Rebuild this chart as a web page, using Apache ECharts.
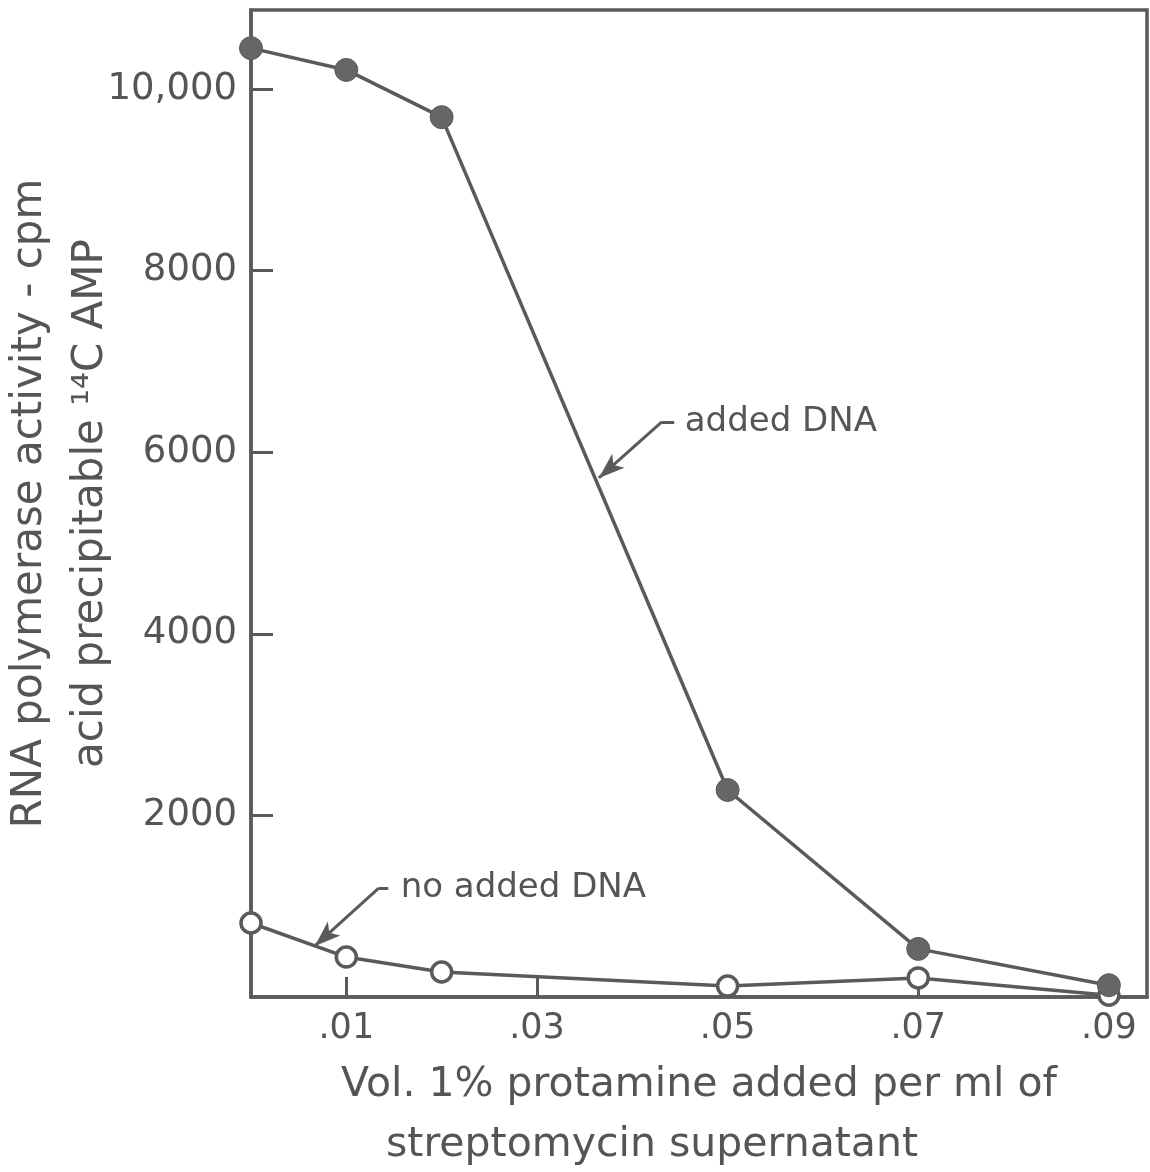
<!DOCTYPE html>
<html>
<head>
<meta charset="utf-8">
<script src="https://cdn.jsdelivr.net/npm/echarts@6/dist/echarts.min.js"></script>
<style>
  html, body { margin: 0; padding: 0; background: #fff; }
  #main { width: 1150px; height: 1172px; }
</style>
</head>
<body>
<div id="main"></div>
<script>
// values
var xAdded = [0, 0.01, 0.02, 0.05, 0.07, 0.09];
var yAdded = [10450, 10210, 9690, 2280, 530, 130];
var xNoAdded = [0, 0.01, 0.02, 0.05, 0.07, 0.09];
var yNoAdded = [815, 440, 275, 120, 210, 20];

var xTicks = [0.01, 0.03, 0.05, 0.07, 0.09];
var yTicks = [2000, 4000, 6000, 8000, 10000];

// leader lines for the two notes: [text end, elbow, arrow tip]
var addedArrow = [[0.0444, 6333], [0.0431, 6333], [0.0365, 5716]];
var noAddedArrow = [[0.0144, 1200], [0.0134, 1200], [0.0067, 562]];
var addedNote = [0.0455, 6333];
var noAddedNote = [0.0157, 1200];

var ink = '#5a5a5a';
var textInk = '#555';
var font = 'DejaVu Sans';

function pairs(xs, ys) {
    var out = [];
    for (var i = 0; i < xs.length; i++) {
        out.push([xs[i], ys[i]]);
    }
    return out;
}

function arrowLines(pts) {
    return [
        [{coord: pts[0], symbol: 'none'}, {coord: pts[1], symbol: 'none'}],
        [{coord: pts[1], symbol: 'none'}, {coord: pts[2], symbol: 'arrow', symbolSize: [14, 26]}]
    ];
}

function note(pos, txt) {
    return {
        symbolSize: 0.1,
        data: [{coord: pos, value: 0}],
        itemStyle: {color: 'rgba(0,0,0,0)'},
        label: {
            show: true, position: 'right', distance: 0,
            formatter: txt, color: textInk, fontFamily: font, fontSize: 34
        }
    };
}

var dom = document.getElementById('main');
var myChart = echarts.init(dom);

var option = {
    animation: false,
    backgroundColor: '#fff',
    grid: {
        left: 251, right: 3, top: 10, bottom: 175,
        containLabel: false,
        outerBoundsMode: 'none',
        show: true, borderColor: ink, borderWidth: 3.5
    },
    xAxis: {
        type: 'value',
        min: 0,
        max: 0.094,
        name: '{a|Vol. 1% protamine added per ml of}\n{b|streptomycin supernatant}',
        nameLocation: 'middle',
        nameGap: 58,
        nameTextStyle: {
            color: textInk, fontFamily: font,
            rich: {
                a: {fontSize: 41, fontFamily: font, color: textInk, lineHeight: 60},
                b: {fontSize: 41, fontFamily: font, color: textInk, lineHeight: 60, padding: [0, 94, 0, 0]}
            }
        },
        axisLine: {show: true, onZero: false, lineStyle: {color: ink, width: 3.5}},
        axisTick: {show: true, inside: true, length: 20, customValues: xTicks, lineStyle: {color: ink, width: 3}},
        axisLabel: {
            customValues: xTicks,
            margin: 14,
            color: textInk, fontFamily: font, fontSize: 35,
            formatter: function(v) { return v.toFixed(2).replace(/^0/, ''); }
        },
        splitLine: {show: false}
    },
    yAxis: {
        type: 'value',
        min: 0,
        max: 10870,
        name: 'RNA polymerase activity - cpm\nacid precipitable \u00b9\u2074C AMP',
        nameLocation: 'middle',
        nameRotate: 90,
        nameGap: 129,
        nameMoveOverlap: false,
        nameTextStyle: {color: textInk, fontFamily: font, fontSize: 42, lineHeight: 61},
        axisLine: {show: true, onZero: false, lineStyle: {color: ink, width: 3.5}},
        axisTick: {show: true, inside: true, length: 22, customValues: yTicks, lineStyle: {color: ink, width: 3}},
        axisLabel: {
            customValues: yTicks,
            margin: 14,
            color: textInk, fontFamily: font, fontSize: 37,
            formatter: function(v) { return v === 10000 ? '10,000' : String(v); }
        },
        splitLine: {show: false}
    },
    series: [
        {
            name: 'no added DNA',
            type: 'line',
            clip: false,
            data: pairs(xNoAdded, yNoAdded),
            symbol: 'circle',
            symbolSize: 20,
            itemStyle: {color: '#fff', borderColor: ink, borderWidth: 3.5},
            lineStyle: {color: ink, width: 3.5},
            markLine: {
                silent: true,
                symbol: 'none',
                label: {show: false},
                lineStyle: {color: ink, width: 3, type: 'solid'},
                data: arrowLines(noAddedArrow)
            },
            markPoint: note(noAddedNote, 'no added DNA')
        },
        {
            name: 'added DNA',
            type: 'line',
            clip: false,
            data: pairs(xAdded, yAdded),
            symbol: 'circle',
            symbolSize: 23,
            itemStyle: {color: '#666', borderColor: ink, borderWidth: 1},
            lineStyle: {color: ink, width: 3.5},
            markLine: {
                silent: true,
                symbol: 'none',
                label: {show: false},
                lineStyle: {color: ink, width: 3, type: 'solid'},
                data: arrowLines(addedArrow)
            },
            markPoint: note(addedNote, 'added DNA')
        }
    ]
};

if (option && typeof option === "object") {
    myChart.setOption(option, true);
}
</script>
</body>
</html>
